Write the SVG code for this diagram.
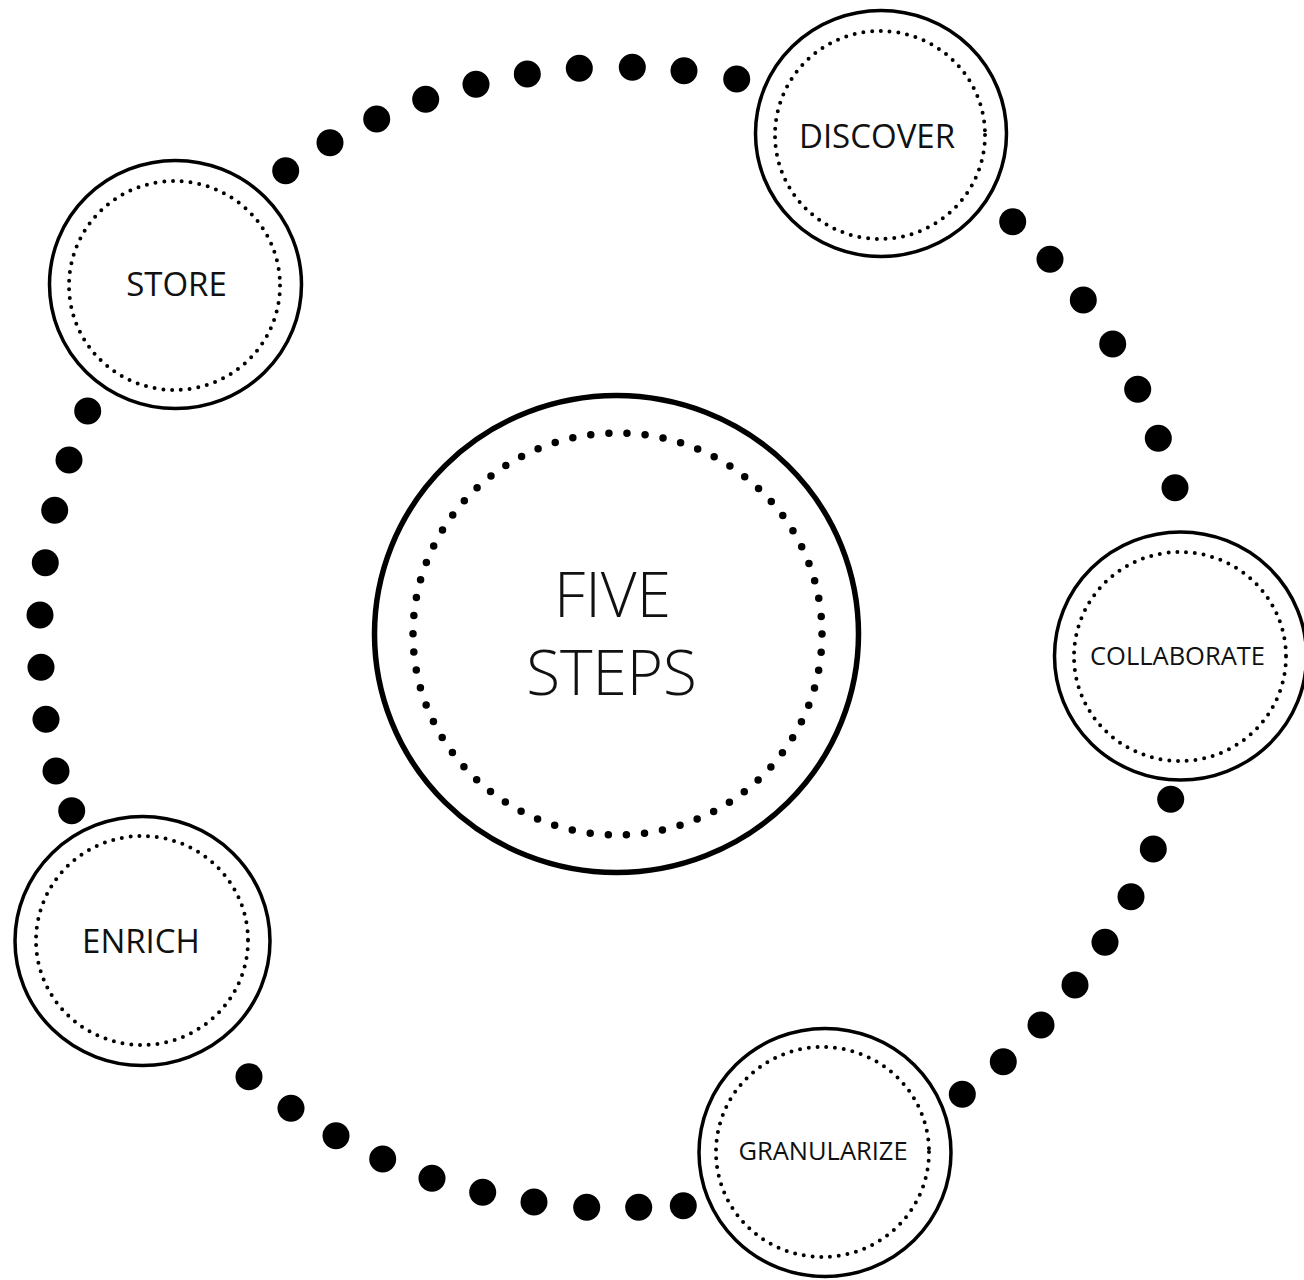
<svg xmlns="http://www.w3.org/2000/svg" width="1304" height="1280" viewBox="0 0 1304 1280">
<style>
.ring{fill:#fff;stroke:#000;stroke-width:3.5}
.dots{fill:none;stroke:#000;stroke-width:4;stroke-linecap:round;stroke-dasharray:0 8.8}
.lbl{font-family:"Open Sans","Liberation Sans",sans-serif;fill:#111;text-anchor:middle;font-size:33px}
.sm{font-size:25.5px}
.big{fill:#000}
</style>
<rect width="1304" height="1280" fill="#fff"/>
<g id="connectors" class="big">
<circle cx="285.7" cy="170.7" r="13.5"/>
<circle cx="330" cy="142.7" r="13.5"/>
<circle cx="376.7" cy="119" r="13.5"/>
<circle cx="425.7" cy="99.3" r="13.5"/>
<circle cx="476" cy="84.3" r="13.5"/>
<circle cx="527.3" cy="74" r="13.5"/>
<circle cx="579.3" cy="68.3" r="13.5"/>
<circle cx="632.3" cy="67.3" r="13.5"/>
<circle cx="684" cy="70.7" r="13.5"/>
<circle cx="736.7" cy="79" r="13.5"/>
<circle cx="1012.7" cy="221.7" r="13.5"/>
<circle cx="1050" cy="259.3" r="13.5"/>
<circle cx="1083.3" cy="300" r="13.5"/>
<circle cx="1112.7" cy="344" r="13.5"/>
<circle cx="1137.7" cy="389.3" r="13.5"/>
<circle cx="1158.3" cy="438.3" r="13.5"/>
<circle cx="1175" cy="487.7" r="13.5"/>
<circle cx="1170.7" cy="799.3" r="13.5"/>
<circle cx="1153.3" cy="849" r="13.5"/>
<circle cx="1131" cy="896.7" r="13.5"/>
<circle cx="1105" cy="942.3" r="13.5"/>
<circle cx="1075" cy="985" r="13.5"/>
<circle cx="1041" cy="1025" r="13.5"/>
<circle cx="1003.3" cy="1061.7" r="13.5"/>
<circle cx="962.3" cy="1094.3" r="13.5"/>
<circle cx="683.3" cy="1205.7" r="13.5"/>
<circle cx="638.7" cy="1207.3" r="13.5"/>
<circle cx="586.7" cy="1207.3" r="13.5"/>
<circle cx="534" cy="1202" r="13.5"/>
<circle cx="482.7" cy="1192.3" r="13.5"/>
<circle cx="432" cy="1178.3" r="13.5"/>
<circle cx="382.7" cy="1159" r="13.5"/>
<circle cx="336" cy="1135.7" r="13.5"/>
<circle cx="291" cy="1108.3" r="13.5"/>
<circle cx="249" cy="1076.7" r="13.5"/>
<circle cx="71.7" cy="810.7" r="13.5"/>
<circle cx="56" cy="771" r="13.5"/>
<circle cx="46" cy="719.3" r="13.5"/>
<circle cx="41" cy="667.3" r="13.5"/>
<circle cx="40" cy="615" r="13.5"/>
<circle cx="45.3" cy="562.7" r="13.5"/>
<circle cx="54.7" cy="510.3" r="13.5"/>
<circle cx="69" cy="460" r="13.5"/>
<circle cx="87.7" cy="411" r="13.5"/>
</g>
<g id="center">
<ellipse cx="616.5" cy="634" rx="242" ry="238.5" fill="#fff" stroke="#000" stroke-width="5.5"/>
<ellipse cx="617.5" cy="634" rx="204.5" ry="201" fill="none" stroke="#000" stroke-width="7.5" stroke-linecap="round" stroke-dasharray="0 18.2"/>
<text class="lbl" x="612.5" y="617" style="font-size:62px;font-weight:300">FIVE</text>
<text class="lbl" x="611.5" y="695" style="font-size:62px;font-weight:300">STEPS</text>
</g>
<g id="discover">
<ellipse class="ring" cx="881" cy="133.5" rx="125.5" ry="123"/>
<ellipse class="dots" cx="880" cy="135" rx="105" ry="104"/>
<text class="lbl" x="877" y="148">DISCOVER</text>
</g>
<g id="collaborate">
<ellipse class="ring" cx="1180.5" cy="656" rx="126" ry="124"/>
<ellipse class="dots" cx="1180" cy="656.5" rx="106" ry="104.5"/>
<text class="lbl sm" x="1177.5" y="665">COLLABORATE</text>
</g>
<g id="granularize">
<ellipse class="ring" cx="825" cy="1152.5" rx="126" ry="124"/>
<ellipse class="dots" cx="822.5" cy="1152" rx="106.5" ry="105"/>
<text class="lbl sm" x="823" y="1160">GRANULARIZE</text>
</g>
<g id="enrich">
<ellipse class="ring" cx="142.5" cy="941" rx="127.5" ry="124.5"/>
<ellipse class="dots" cx="142" cy="940.5" rx="106" ry="104.5"/>
<text class="lbl" x="141" y="953">ENRICH</text>
</g>
<g id="store">
<ellipse class="ring" cx="175.5" cy="284.5" rx="126" ry="124"/>
<ellipse class="dots" cx="174.5" cy="285.5" rx="105.5" ry="104.5"/>
<text class="lbl" x="176.5" y="296">STORE</text>
</g>
</svg>
